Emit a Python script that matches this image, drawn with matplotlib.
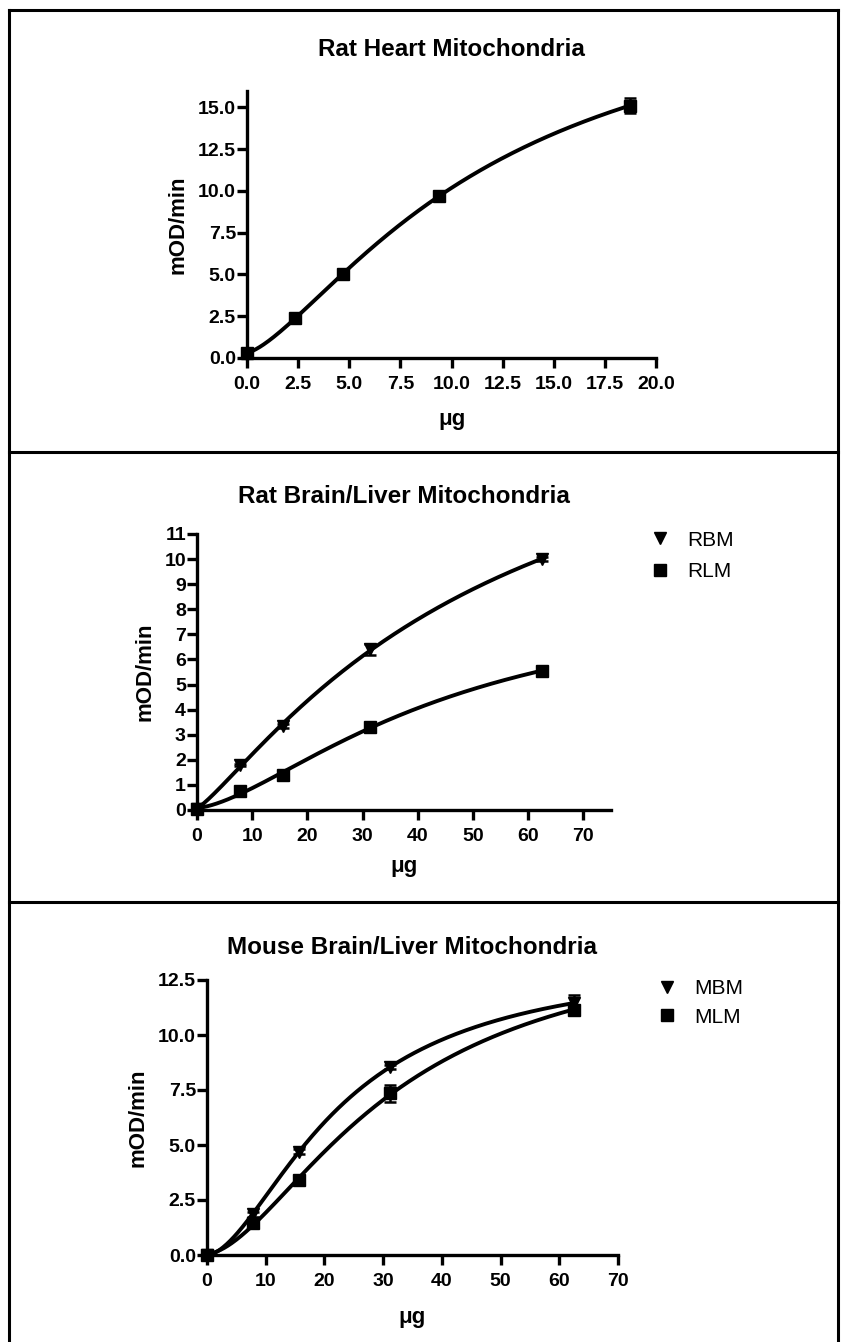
import numpy as np
import matplotlib
matplotlib.use("Agg")
import matplotlib.pyplot as plt
from matplotlib.lines import Line2D
from matplotlib.ticker import FormatStrFormatter

plt.rcParams['font.family'] = ['Liberation Sans', 'DejaVu Sans']

W, H = 841, 1342

# rat heart mitochondria
heart_ug = [0, 2.34, 4.69, 9.38, 18.75]
heart_rate = [0.3, 2.4, 5.0, 9.7, 15.1]
heart_err = [0.05, 0.08, 0.08, 0.1, 0.45]

# rat brain / liver
rat_ug = [0, 7.8, 15.6, 31.25, 62.5]
rbm_rate = [0.05, 1.8, 3.35, 6.4, 10.0]
rbm_err = [0.02, 0.05, 0.08, 0.22, 0.08]
rlm_rate = [0.05, 0.75, 1.4, 3.3, 5.55]
rlm_err = [0.02, 0.05, 0.08, 0.1, 0.08]

# mouse brain / liver
mouse_ug = [0, 7.8, 15.6, 31.25, 62.5]
mbm_rate = [0.0, 1.85, 4.7, 8.55, 11.45]
mbm_err = [0.02, 0.1, 0.1, 0.1, 0.37]
mlm_rate = [0.0, 1.45, 3.4, 7.35, 11.15]
mlm_err = [0.02, 0.1, 0.1, 0.4, 0.2]

fig = plt.figure(figsize=(W / 100, H / 100), dpi=100)


def px_axes(left, right, bottom, top):
    return fig.add_axes([left / W, 1 - bottom / H, (right - left) / W, (bottom - top) / H])


def fx(x):
    return x / W


def fy(y):
    return 1 - y / H


def hill_fit(x, y):
    # least squares fit of y = bottom + top * x^n / (k^n + x^n)
    best = None
    ks = np.geomspace(1, 1000, 400)
    for n in np.linspace(0.7, 4.0, 200):
        B = x[None, :] ** n / (ks[:, None] ** n + x[None, :] ** n)
        Bm = B.mean(axis=1, keepdims=True)
        ym = y.mean()
        t = ((B - Bm) * (y - ym)).sum(axis=1) / ((B - Bm) ** 2).sum(axis=1)
        b = ym - t * Bm[:, 0]
        sse = ((b[:, None] + t[:, None] * B - y) ** 2).sum(axis=1)
        i = np.argmin(sse)
        if best is None or sse[i] < best[0]:
            best = (sse[i], b[i], t[i], n, ks[i])
    _, b, t, n, k = best
    return lambda v: b + t * v ** n / (k ** n + v ** n)


def series(ax, x, y, err, marker, ms):
    x = np.asarray(x, float)
    y = np.asarray(y, float)
    f = hill_fit(x, y)
    xs = np.linspace(x.min(), x.max(), 300)
    ax.plot(xs, f(xs), color='black', lw=2.8, clip_on=False)
    eb = ax.errorbar(x, y, yerr=err, fmt='none', ecolor='black', elinewidth=1.8,
                     capsize=4, capthick=1.8)
    for art in eb.get_children():
        art.set_clip_on(False)
    h, = ax.plot(x, y, marker, color='black', ms=ms, ls='none', clip_on=False)
    return h


def style(ax, xlim, ylim, xticks, yticks, xfmt, yfmt):
    for s in ['top', 'right']:
        ax.spines[s].set_visible(False)
    for s in ['left', 'bottom']:
        ax.spines[s].set_linewidth(2.4)
    ax.set_xlim(xlim)
    ax.set_ylim(ylim)
    ax.set_xticks(xticks)
    ax.set_yticks(yticks)
    ax.xaxis.set_major_formatter(FormatStrFormatter(xfmt))
    ax.yaxis.set_major_formatter(FormatStrFormatter(yfmt))
    ax.tick_params(width=2.4, length=7, labelsize=14)
    ax.tick_params(axis='x', pad=6)
    ax.tick_params(axis='y', pad=1)
    for lab in ax.get_xticklabels() + ax.get_yticklabels():
        lab.set_fontweight('bold')
    ax.patch.set_alpha(0)


def labels(ax, title, tx, ty, xl_y, yl_x, box):
    left, right, bottom, top = box
    fig.text(fx(tx), fy(ty), title, ha='center', va='center', fontsize=17.5, fontweight='bold')
    ax.set_xlabel('μg', fontsize=16, fontweight='bold', va='center')
    ax.xaxis.set_label_coords(0.5, -(xl_y - bottom) / (bottom - top))
    ax.set_ylabel('mOD/min', fontsize=16, fontweight='bold', va='center')
    ax.yaxis.set_label_coords((yl_x - left) / (right - left), 0.5)


# panel 1
box1 = (247, 656, 358, 90.5)
ax1 = px_axes(*box1)
series(ax1, heart_ug, heart_rate, heart_err, 's', 8.5)
style(ax1, (0, 20), (0, 16), np.arange(0, 20.1, 2.5), np.arange(0, 15.1, 2.5), '%.1f', '%.1f')
labels(ax1, 'Rat Heart Mitochondria', 451, 50, 420, 178, box1)

# panel 2
box2 = (197, 611, 810, 534)
ax2 = px_axes(*box2)
h_rbm = series(ax2, rat_ug, rbm_rate, rbm_err, 'v', 9)
h_rlm = series(ax2, rat_ug, rlm_rate, rlm_err, 's', 8.5)
style(ax2, (0, 75), (0, 11), np.arange(0, 71, 10), np.arange(0, 12, 1), '%d', '%d')
labels(ax2, 'Rat Brain/Liver Mitochondria', 404, 497, 867, 145, box2)
ax2.legend([h_rbm, h_rlm], ['RBM', 'RLM'], loc='center left',
           bbox_to_anchor=(fx(650), fy(556)), bbox_transform=fig.transFigure,
           frameon=False, fontsize=15, handlelength=1.0, handletextpad=0.8,
           labelspacing=0.6, borderpad=0, borderaxespad=0, numpoints=1)

# panel 3
box3 = (207, 618, 1255, 980)
ax3 = px_axes(*box3)
h_mbm = series(ax3, mouse_ug, mbm_rate, mbm_err, 'v', 9)
h_mlm = series(ax3, mouse_ug, mlm_rate, mlm_err, 's', 8.5)
style(ax3, (0, 70), (0, 12.5), np.arange(0, 71, 10), np.arange(0, 12.6, 2.5), '%d', '%.1f')
labels(ax3, 'Mouse Brain/Liver Mitochondria', 412, 947, 1317, 138, box3)
ax3.legend([h_mbm, h_mlm], ['MBM', 'MLM'], loc='center left',
           bbox_to_anchor=(fx(657), fy(1003)), bbox_transform=fig.transFigure,
           frameon=False, fontsize=15, handlelength=1.0, handletextpad=0.8,
           labelspacing=0.45, borderpad=0, borderaxespad=0, numpoints=1)

# panel borders
lw = 2.2
for (x0, y0, x1, y1) in [(9, 10, 838, 10), (9, 10, 9, H), (838, 10, 838, H),
                         (9, 452, 838, 452), (9, 902, 838, 902)]:
    fig.add_artist(Line2D([fx(x0), fx(x1)], [fy(y0), fy(y1)], color='black', lw=lw,
                          transform=fig.transFigure))

fig.savefig('out.png', dpi=100)
